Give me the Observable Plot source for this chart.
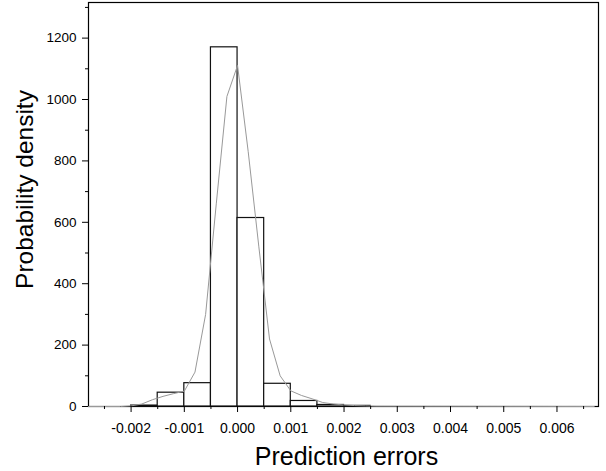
<!DOCTYPE html>
<html>
<head>
<meta charset="utf-8">
<script src="https://cdn.jsdelivr.net/npm/d3@7"></script>
<script src="https://cdn.jsdelivr.net/npm/@observablehq/plot@0.6"></script>
<style>
  html, body { margin: 0; padding: 0; background: #fff; }
  #chart { width: 606px; height: 471px; }
</style>
</head>
<body>
<div id="chart"></div>
<script>
// Histogram bins (prediction errors) and their probability densities
const binStart = [-0.002, -0.0015, -0.001, -0.0005, 0.0, 0.0005, 0.001, 0.0015, 0.002];
const binEnd   = [-0.0015, -0.001, -0.0005, 0.0, 0.0005, 0.001, 0.0015, 0.002, 0.0025];
const binDensity = [3, 45, 76, 1170, 614, 74, 18, 5, 2];

// Fitted density curve
const curveX = [-0.0028, -0.0022, -0.0020, -0.0018, -0.0016, -0.0014, -0.0012, -0.0010, -0.0008, -0.0006, -0.0004, -0.0002, 0.0, 0.0002, 0.0004, 0.0006, 0.0008, 0.0010, 0.0012, 0.0014, 0.0016, 0.0018, 0.0020, 0.0022, 0.0024, 0.0026, 0.0067];
const curveY = [0, 0, 2, 8, 22, 33, 42, 50, 112, 300, 660, 1010, 1111, 830, 520, 220, 100, 51, 36, 25, 13, 8, 5, 3, 2, 1, 0];

// Axis ticks
const xMajorTicks = [-0.002, -0.001, 0.0, 0.001, 0.002, 0.003, 0.004, 0.005, 0.006];
const xMinorTicks = [-0.0025, -0.0015, -0.0005, 0.0005, 0.0015, 0.0025, 0.0035, 0.0045, 0.0055, 0.0065];
const yMajorTicks = [0, 200, 400, 600, 800, 1000, 1200];
const yMinorTicks = [100, 300, 500, 700, 900, 1100, 1300];

const xTitle = "Prediction errors";
const yTitle = "Probability density";

const bins = binStart.map((s, i) => ({x1: s, x2: binEnd[i], y: binDensity[i]}));
const curve = curveX.map((x, i) => ({x, y: curveY[i]}));

const chart = Plot.plot({
  width: 606,
  height: 471,
  marginLeft: 88,
  marginRight: 8,
  marginTop: 2,
  marginBottom: 65,
  style: {fontFamily: "'Liberation Sans', Arial, sans-serif", background: "#fff", color: "#000"},
  x: {domain: [-0.0028, 0.00678]},
  y: {domain: [0, 1316]},
  marks: [
    Plot.frame({stroke: "#000", strokeWidth: 1.2}),
    Plot.rectY(bins, {x1: "x1", x2: "x2", y: "y", fill: "#fff", stroke: "#111", strokeWidth: 1.2}),
    Plot.line(curve, {x: "x", y: "y", stroke: "#999", strokeWidth: 1}),
    Plot.axisX({ticks: xMajorTicks, tickSize: 6, tickPadding: 11, fontSize: 14, label: null,
      tickFormat: d => d.toFixed(3)}),
    Plot.axisX({ticks: xMinorTicks, tickSize: 3, label: null, tickFormat: () => ""}),
    Plot.axisY({ticks: yMajorTicks, tickSize: 6, tickPadding: 6, fontSize: 13.5, label: null,
      tickFormat: d => String(d)}),
    Plot.axisY({ticks: yMinorTicks, tickSize: 3, label: null, tickFormat: () => ""}),
    Plot.text([xTitle], {frameAnchor: "bottom", dy: 50, dx: 3, fontSize: 25, lineAnchor: "middle", textAnchor: "middle", fill: "#000"}),
    Plot.text([yTitle], {frameAnchor: "left", dx: -63, dy: -15, rotate: -90, fontSize: 24.5, lineAnchor: "middle", textAnchor: "middle", fill: "#000"})
  ]
});
document.getElementById("chart").appendChild(chart);
</script>
</body>
</html>
